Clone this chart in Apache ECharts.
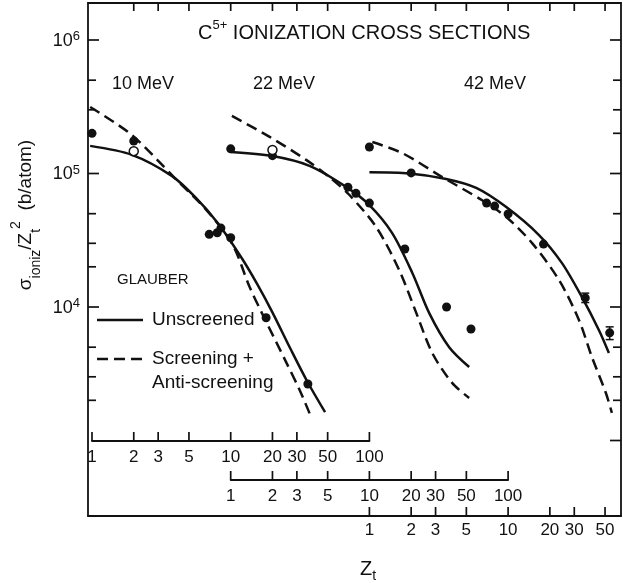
<!DOCTYPE html>
<html>
<head>
<meta charset="utf-8">
<title>C5+ ionization cross sections</title>
<script src="https://cdn.jsdelivr.net/npm/echarts@6/dist/echarts.min.js"></script>
<style>
  html, body { margin: 0; padding: 0; background: #ffffff; }
  #chart { width: 623px; height: 583px; }
</style>
</head>
<body>
<div id="chart"></div>
<script>
// ---- sigma_ioniz / Zt^2 (b/atom) against target atomic number Zt ----

// 10 MeV
const zt10Closed = [1, 2, 7, 8, 8.5, 10, 18, 36];
const sig10Closed = [2.0e5, 1.75e5, 3.5e4, 3.6e4, 3.9e4, 3.3e4, 8.3e3, 2.65e3];
const zt10Open = [2];
const sig10Open = [1.47e5];
const zt10Unscreened = [0.97, 1.94, 3.76, 5.51, 8.06, 12.0, 15.5, 19.9, 26.8, 35.5, 47.9];
const sig10Unscreened = [1.61e5, 1.38e5, 9.6e4, 6.7e4, 4.26e4, 2.33e4, 1.49e4, 9.2e3, 4.93e3, 2.79e3, 1.63e3];
const zt10Screening = [0.97, 1.94, 3.95, 6.5, 10.2, 13.7, 16.8, 25.3, 31.4, 38.3];
const sig10Screening = [3.15e5, 1.94e5, 9.25e4, 5.5e4, 3.0e4, 1.41e4, 9.0e3, 3.8e3, 2.39e3, 1.47e3];

// 22 MeV
const zt22Closed = [1, 2, 7, 8, 10, 18, 36, 54];
const sig22Closed = [1.53e5, 1.36e5, 7.9e4, 7.1e4, 6.0e4, 2.72e4, 1.0e4, 6.84e3];
const zt22Open = [2];
const sig22Open = [1.50e5];
const zt22Unscreened = [1.0, 2.0, 3.70, 6.84, 10.0, 14.6, 20.4, 27.0, 37.6, 52.4];
const sig22Unscreened = [1.45e5, 1.35e5, 1.14e5, 7.9e4, 5.8e4, 3.58e4, 1.80e4, 9.0e3, 5.0e3, 3.55e3];
const zt22Screening = [1.02, 1.91, 3.52, 5.15, 7.18, 11.2, 16.4, 21.8, 28.4, 39.5, 52.4];
const sig22Screening = [2.70e5, 1.88e5, 1.26e5, 9.4e4, 6.9e4, 3.97e4, 1.89e4, 9.0e3, 4.52e3, 2.70e3, 2.08e3];

// 42 MeV
const zt42Closed = [1, 2, 7, 8, 10, 18, 36, 54];
const sig42Closed = [1.58e5, 1.01e5, 6.0e4, 5.7e4, 4.98e4, 2.96e4, 1.17e4, 6.4e3];
const zt42ErrZ = [36, 54];
const sig42ErrLow = [1.08e4, 5.7e3];
const sig42ErrHigh = [1.27e4, 7.1e3];
const zt42Unscreened = [1.0, 1.94, 3.58, 5.89, 9.7, 16.7, 24.4, 34.0, 45.2, 53.3];
const sig42Unscreened = [1.02e5, 1.0e5, 9.1e4, 7.8e4, 5.6e4, 3.46e4, 2.14e4, 1.19e4, 6.7e3, 4.52e3];
const zt42Screening = [1.05, 1.73, 3.35, 6.5, 9.7, 14.9, 23.3, 32.4, 40.2, 50.7, 56.0];
const sig42Screening = [1.72e5, 1.42e5, 9.4e4, 6.3e4, 4.72e4, 3.01e4, 1.59e4, 8.0e3, 4.22e3, 2.27e3, 1.61e3];

// tick values
const ztTicks = [1, 2, 3, 5, 10, 20, 30, 50, 100];
const zt42Ticks = [1, 2, 3, 5, 10, 20, 30, 50];
const topTicks = [2, 3, 5, 10, 20, 30, 50, 100, 200, 300, 500, 1000, 2000, 3000, 5000];
const sigMajorTicks = [1e4, 1e5, 1e6];
const sigRightMajorTicks = [1e3, 1e4, 1e5, 1e6];
const sigMinorTicks = [2e3, 3e3, 5e3, 2e4, 3e4, 5e4, 2e5, 3e5, 5e5];
const sigLabelled = [1e4, 1e5, 1e6];

// ---- layout ----
const INK = '#111111';
const FONT = '"Liberation Sans", Arial, Helvetica, sans-serif';
const GRID_L = 88, GRID_R = 621, GRID_T = 3, GRID_B = 516;
const X_ONE = 92;      // pixel column of Zt = 1 on the 10 MeV scale
const X_DEC = 138.7;   // pixels per decade of Zt
const Y_1E6 = 40;      // pixel row of 1e6 b/atom
const Y_DEC = 133.5;   // pixels per decade of sigma
const ROW10 = 441, ROW22 = 480;   // rows of the 10 MeV and 22 MeV Zt scales
const LINE_W = 2.5;
const DASH = [11, 6];

const xMin10 = Math.pow(10, (GRID_L - X_ONE) / X_DEC);
const xMax10 = Math.pow(10, (GRID_R - X_ONE) / X_DEC);
const yMax = Math.pow(10, 6 + (Y_1E6 - GRID_T) / Y_DEC);
const yMin = Math.pow(10, 6 - (GRID_B - Y_1E6) / Y_DEC);

const zip = (xs, ys) => xs.map((x, i) => [x, ys[i]]);

function curve(xs, ys, xAxisIndex, dashed) {
  return {
    type: 'line', xAxisIndex, yAxisIndex: 0,
    data: zip(xs, ys), smooth: 0.3, symbol: 'none', showSymbol: false, silent: true,
    lineStyle: { color: INK, width: LINE_W, type: dashed ? DASH : 'solid' },
    z: 2
  };
}

function points(xs, ys, xAxisIndex, open) {
  return {
    type: 'scatter', xAxisIndex, yAxisIndex: 0,
    data: zip(xs, ys), symbol: 'circle', symbolSize: 9, silent: true,
    itemStyle: open ? { color: '#ffffff', borderColor: INK, borderWidth: 1.5, opacity: 1 }
                    : { color: INK, opacity: 1 },
    z: 4
  };
}

// tick marks along a Zt scale, optionally labelled
function xTickSeries(values, xAxisIndex, yAxisIndex, yValue, len, labelDy) {
  return {
    type: 'custom', coordinateSystem: 'cartesian2d', xAxisIndex, yAxisIndex,
    silent: true, clip: false, z: 6,
    data: values.map(v => [v, yValue]),
    renderItem: function (params, api) {
      const v = api.value(0);
      const p = api.coord([v, api.value(1)]);
      const children = [{
        type: 'line',
        shape: { x1: p[0], y1: p[1], x2: p[0], y2: p[1] + len },
        style: { stroke: INK, lineWidth: 1.7 }
      }];
      if (labelDy != null) {
        children.push({
          type: 'text', x: p[0], y: p[1] + labelDy,
          style: { text: String(v), fill: INK, fontSize: 17, fontFamily: FONT, align: 'center', verticalAlign: 'middle' }
        });
      }
      return { type: 'group', children: children };
    }
  };
}

// tick marks along the sigma scale
function yTickSeries(values, xValue, len) {
  return {
    type: 'custom', coordinateSystem: 'cartesian2d', xAxisIndex: 0, yAxisIndex: 0,
    silent: true, clip: false, z: 6,
    data: values.map(v => [xValue, v]),
    renderItem: function (params, api) {
      const p = api.coord([api.value(0), api.value(1)]);
      return {
        type: 'line',
        shape: { x1: p[0], y1: p[1], x2: p[0] + len, y2: p[1] },
        style: { stroke: INK, lineWidth: 1.7 }
      };
    }
  };
}

// decade labels 10^n on the left sigma scale
function yLabelSeries(values, xValue) {
  return {
    type: 'custom', coordinateSystem: 'cartesian2d', xAxisIndex: 0, yAxisIndex: 0,
    silent: true, clip: false, z: 6,
    data: values.map(v => [xValue, v]),
    renderItem: function (params, api) {
      const v = api.value(1);
      const p = api.coord([api.value(0), v]);
      const e = Math.round(Math.log10(v));
      return {
        type: 'text', x: p[0] - 8, y: p[1] + 1,
        style: {
          text: '{b|10}{s|' + e + '}', align: 'right', verticalAlign: 'middle',
          rich: {
            b: { fontSize: 18, fontFamily: FONT, fill: INK, lineHeight: 22 },
            s: { fontSize: 13, fontFamily: FONT, fill: INK, lineHeight: 13, verticalAlign: 'top' }
          }
        }
      };
    }
  };
}

const frameLine = { show: true, onZero: false, lineStyle: { color: INK, width: 1.8 } };
const noTicks = { show: false };

const chart = echarts.init(document.getElementById('chart'), null, { renderer: 'canvas' });

chart.setOption({
  animation: false,
  backgroundColor: '#ffffff',
  textStyle: { fontFamily: FONT, color: INK },
  grid: [
    { left: GRID_L, top: GRID_T, width: GRID_R - GRID_L, height: GRID_B - GRID_T, containLabel: false, outerBoundsMode: 'none' },
    { left: X_ONE, top: ROW10 - 10, width: 2 * X_DEC, height: 10, containLabel: false, outerBoundsMode: 'none' },
    { left: X_ONE + X_DEC, top: ROW22 - 10, width: 2 * X_DEC, height: 10, containLabel: false, outerBoundsMode: 'none' }
  ],
  xAxis: [
    { type: 'log', gridIndex: 0, min: xMin10, max: xMax10, position: 'top',
      axisLine: frameLine, axisTick: noTicks, axisLabel: noTicks, splitLine: noTicks, minorTick: noTicks, minorSplitLine: noTicks },
    { type: 'log', gridIndex: 0, min: xMin10 / 10, max: xMax10 / 10, show: false },
    { type: 'log', gridIndex: 0, min: xMin10 / 100, max: xMax10 / 100, position: 'bottom',
      axisLine: frameLine, axisTick: noTicks, axisLabel: noTicks, splitLine: noTicks, minorTick: noTicks, minorSplitLine: noTicks },
    { type: 'log', gridIndex: 1, min: 1, max: 100, position: 'bottom',
      axisLine: frameLine, axisTick: noTicks, axisLabel: noTicks, splitLine: noTicks },
    { type: 'log', gridIndex: 2, min: 1, max: 100, position: 'bottom',
      axisLine: frameLine, axisTick: noTicks, axisLabel: noTicks, splitLine: noTicks }
  ],
  yAxis: [
    { type: 'log', gridIndex: 0, min: yMin, max: yMax, position: 'left',
      axisLine: frameLine, axisTick: noTicks, axisLabel: noTicks, splitLine: noTicks, minorTick: noTicks, minorSplitLine: noTicks },
    { type: 'log', gridIndex: 0, min: yMin, max: yMax, position: 'right',
      axisLine: frameLine, axisTick: noTicks, axisLabel: noTicks, splitLine: noTicks, minorTick: noTicks, minorSplitLine: noTicks },
    { type: 'value', gridIndex: 1, min: 0, max: 1, show: false },
    { type: 'value', gridIndex: 2, min: 0, max: 1, show: false }
  ],
  series: [
    // theory curves
    curve(zt10Unscreened, sig10Unscreened, 0, false),
    curve(zt10Screening, sig10Screening, 0, true),
    curve(zt22Unscreened, sig22Unscreened, 1, false),
    curve(zt22Screening, sig22Screening, 1, true),
    curve(zt42Unscreened, sig42Unscreened, 2, false),
    curve(zt42Screening, sig42Screening, 2, true),
    // measurements
    points(zt10Closed, sig10Closed, 0, false),
    points(zt10Open, sig10Open, 0, true),
    points(zt22Closed, sig22Closed, 1, false),
    points(zt22Open, sig22Open, 1, true),
    points(zt42Closed, sig42Closed, 2, false),
    {
      type: 'custom', coordinateSystem: 'cartesian2d', xAxisIndex: 2, yAxisIndex: 0, silent: true, z: 5,
      data: zt42ErrZ.map((z, i) => [z, sig42ErrLow[i], sig42ErrHigh[i]]),
      encode: { x: 0, y: [1, 2] },
      renderItem: function (params, api) {
        const lo = api.coord([api.value(0), api.value(1)]);
        const hi = api.coord([api.value(0), api.value(2)]);
        const st = { stroke: INK, lineWidth: 1.5 };
        return { type: 'group', children: [
          { type: 'line', shape: { x1: lo[0], y1: lo[1], x2: hi[0], y2: hi[1] }, style: st },
          { type: 'line', shape: { x1: lo[0] - 4, y1: lo[1], x2: lo[0] + 4, y2: lo[1] }, style: st },
          { type: 'line', shape: { x1: hi[0] - 4, y1: hi[1], x2: hi[0] + 4, y2: hi[1] }, style: st }
        ] };
      }
    },
    // Zt scales
    xTickSeries(ztTicks, 3, 2, 0, -9, 16),
    xTickSeries(ztTicks, 4, 3, 0, -9, 16),
    xTickSeries(zt42Ticks, 2, 0, yMin, -9, 14),
    xTickSeries(topTicks, 0, 0, yMax, 8, null),
    // sigma scales
    yTickSeries(sigMajorTicks, xMin10, 11),
    yTickSeries(sigMinorTicks, xMin10, 8),
    yTickSeries(sigRightMajorTicks, xMax10, -11),
    yTickSeries(sigMinorTicks, xMax10, -8),
    yLabelSeries(sigLabelled, xMin10)
  ],
  graphic: [
    { type: 'text', x: 198, y: 33, z: 10,
      style: { text: '{m|C}{sup|5+}{m| IONIZATION CROSS SECTIONS}', align: 'left', verticalAlign: 'middle',
        rich: {
          m: { fontSize: 20, fontFamily: FONT, fill: INK, lineHeight: 28 },
          sup: { fontSize: 13, fontFamily: FONT, fill: INK, lineHeight: 13, verticalAlign: 'top' }
        } } },
    { type: 'text', x: 143, y: 84, z: 10,
      style: { text: '10 MeV', fill: INK, fontSize: 18, fontFamily: FONT, align: 'center', verticalAlign: 'middle' } },
    { type: 'text', x: 284, y: 84, z: 10,
      style: { text: '22 MeV', fill: INK, fontSize: 18, fontFamily: FONT, align: 'center', verticalAlign: 'middle' } },
    { type: 'text', x: 495, y: 84, z: 10,
      style: { text: '42 MeV', fill: INK, fontSize: 18, fontFamily: FONT, align: 'center', verticalAlign: 'middle' } },
    { type: 'text', x: 117, y: 280, z: 10,
      style: { text: 'GLAUBER', fill: INK, fontSize: 15, fontFamily: FONT, align: 'left', verticalAlign: 'middle' } },
    { type: 'line', z: 10, shape: { x1: 97, y1: 320, x2: 143, y2: 320 }, style: { stroke: INK, lineWidth: LINE_W } },
    { type: 'text', x: 152, y: 320, z: 10,
      style: { text: 'Unscreened', fill: INK, fontSize: 19, fontFamily: FONT, align: 'left', verticalAlign: 'middle' } },
    { type: 'line', z: 10, shape: { x1: 97, y1: 359, x2: 143, y2: 359 }, style: { stroke: INK, lineWidth: LINE_W, lineDash: DASH } },
    { type: 'text', x: 152, y: 359, z: 10,
      style: { text: 'Screening +', fill: INK, fontSize: 19, fontFamily: FONT, align: 'left', verticalAlign: 'middle' } },
    { type: 'text', x: 152, y: 383, z: 10,
      style: { text: 'Anti-screening', fill: INK, fontSize: 19, fontFamily: FONT, align: 'left', verticalAlign: 'middle' } },
    // y-axis title, reading bottom to top
    { type: 'text', x: 26, y: 215, rotation: Math.PI / 2, z: 10,
      style: { text: '{m|σ}{sub|ioniz}{m|/Z}{sub|t}{sup|2}{m|  (b/atom)}', align: 'center', verticalAlign: 'middle',
        rich: {
          m: { fontSize: 19, fontFamily: FONT, fill: INK, lineHeight: 34 },
          sub: { fontSize: 14, fontFamily: FONT, fill: INK, lineHeight: 14, verticalAlign: 'bottom' },
          sup: { fontSize: 14, fontFamily: FONT, fill: INK, lineHeight: 14, verticalAlign: 'top' }
        } } },
    // x-axis title
    { type: 'text', x: 368, y: 569, z: 10,
      style: { text: '{m|Z}{sub|t}', align: 'center', verticalAlign: 'middle',
        rich: {
          m: { fontSize: 20, fontFamily: FONT, fill: INK, lineHeight: 28 },
          sub: { fontSize: 14, fontFamily: FONT, fill: INK, lineHeight: 14, verticalAlign: 'bottom' }
        } } }
  ]
});
</script>
</body>
</html>
